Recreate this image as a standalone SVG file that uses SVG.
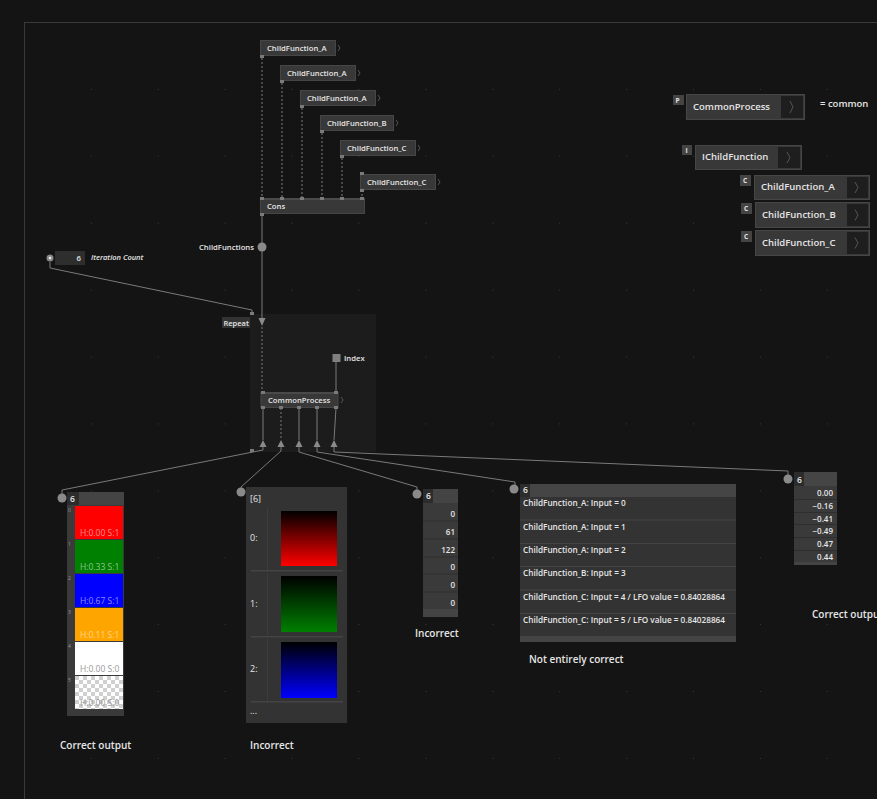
<svg xmlns="http://www.w3.org/2000/svg" width="877" height="799" viewBox="0 0 877 799">
<defs>
<pattern id="grid" x="24" y="22" width="66.9" height="66.9" patternUnits="userSpaceOnUse"><rect x="0" y="0" width="1" height="1" fill="#3a3a3a"/></pattern>
<pattern id="checker" x="75" y="676" width="8" height="8" patternUnits="userSpaceOnUse"><rect width="8" height="8" fill="#ffffff"/><rect width="4" height="4" fill="#d0d0d0"/><rect x="4" y="4" width="4" height="4" fill="#d0d0d0"/></pattern>
<linearGradient id="gR" x1="0" y1="0" x2="0" y2="1"><stop offset="0" stop-color="#000"/><stop offset="1" stop-color="#ff0000"/></linearGradient>
<linearGradient id="gG" x1="0" y1="0" x2="0" y2="1"><stop offset="0" stop-color="#000"/><stop offset="1" stop-color="#008000"/></linearGradient>
<linearGradient id="gB" x1="0" y1="0" x2="0" y2="1"><stop offset="0" stop-color="#000"/><stop offset="1" stop-color="#0000ff"/></linearGradient>
</defs>
<style>
.t{font-family:"Open Sans","Noto Sans","DejaVu Sans",sans-serif;fill:#e6e6e6;}
.s7{font-size:7.7px;font-weight:600;}
.s9{font-size:9.5px;font-weight:600;}
.node{fill:#383838;stroke:#464646;stroke-width:1;}
.port{fill:#7a7a7a;}
.wire{stroke:#7a7a7a;fill:none;stroke-width:1;}
.dash{stroke-dasharray:2 2;}
.pin{fill:#8a8a8a;}
.tri{fill:#8a8a8a;}
.chev{fill:none;stroke:#555;stroke-width:1;}
.badge{fill:#444;}
.arr{fill:#1e1e1e;}
.lbl{font-size:10px;font-weight:600;}
.hsv{font-family:"Open Sans","Noto Sans",sans-serif;font-size:8.5px;}
</style>
<rect width="877" height="799" fill="#141414"/>
<rect x="24" y="22" width="853" height="777" fill="url(#grid)"/>
<path d="M24.5,799 L24.5,22.5 L877,22.5" fill="none" stroke="#3a3a3a" stroke-width="1"/>

<!-- repeat region background -->
<g id="repeatRegion"><rect x="250" y="314" width="126" height="138" fill="#1c1c1c"/></g>

<!-- connectors -->
<g id="connectors">
<path class="wire dash" d="M262,58 V198"/>
<path class="wire dash" d="M282,83 V198"/>
<path class="wire dash" d="M302,108 V198"/>
<path class="wire dash" d="M322,133 V198"/>
<path class="wire dash" d="M342,158 V198"/>
<path class="wire dash" d="M362,190 V198"/>
<path class="wire" d="M262,214 V318"/>
<path class="wire" d="M50,262 V268 L252,310 V314" stroke="#666"/>
<path class="wire dash" d="M262,327 V392"/>
<path class="wire" d="M336,361 V392"/>
<path class="wire" d="M263,408 V440"/>
<path class="wire dash" d="M281,408 V440"/>
<path class="wire" d="M299,408 V440"/>
<path class="wire" d="M317,408 V440"/>
<path class="wire" d="M336,408 L334,440"/>
<path class="wire" d="M263,447 V450 L62,490 V494"/>
<path class="wire" d="M281,447 V451 L241,487 V490"/>
<path class="wire" d="M299,447 V452 L417,487 V491"/>
<path class="wire" d="M317,447 V452 L515,482 V486"/>
<path class="wire" d="M334,447 V452 L788,471 V475"/>
</g>

<!-- top child function nodes -->
<g id="cfA1"><rect class="node" x="260.5" y="40.5" width="75" height="15"/><text class="t s7" x="267" y="51">ChildFunction_A</text><path class="chev" d="M338,45 l2,3 l-2,3"/><rect class="port" x="260" y="55" width="4" height="3"/></g>
<g id="cfA2"><rect class="node" x="280.5" y="65.5" width="75" height="15"/><text class="t s7" x="287" y="76">ChildFunction_A</text><path class="chev" d="M358,70 l2,3 l-2,3"/><rect class="port" x="280" y="80" width="4" height="3"/></g>
<g id="cfA3"><rect class="node" x="300.5" y="90.5" width="75" height="15"/><text class="t s7" x="307" y="101">ChildFunction_A</text><path class="chev" d="M378,95 l2,3 l-2,3"/><rect class="port" x="300" y="105" width="4" height="3"/></g>
<g id="cfB"><rect class="node" x="320.5" y="115.5" width="73" height="15"/><text class="t s7" x="327" y="126">ChildFunction_B</text><path class="chev" d="M396,120 l2,3 l-2,3"/><rect class="port" x="320" y="130" width="4" height="3"/></g>
<g id="cfC1"><rect class="node" x="340.5" y="140.5" width="75" height="15"/><text class="t s7" x="347" y="151">ChildFunction_C</text><path class="chev" d="M418,145 l2,3 l-2,3"/><rect class="port" x="340" y="155" width="4" height="3"/></g>
<g id="cfC2"><rect class="node" x="360.5" y="174.5" width="75" height="15"/><text class="t s7" x="367" y="185">ChildFunction_C</text><path class="chev" d="M438,179 l2,3 l-2,3"/><rect class="port" x="360" y="172" width="4" height="3"/><rect class="port" x="360" y="189" width="4" height="3"/></g>
<g id="cons"><rect class="node" x="260.5" y="198.5" width="104" height="15"/><rect x="261" y="198" width="103" height="2" fill="#4a4a4a"/>
<rect class="port" x="260" y="197" width="4" height="3"/><rect class="port" x="280" y="197" width="4" height="3"/><rect class="port" x="300" y="197" width="4" height="3"/><rect class="port" x="320" y="197" width="4" height="3"/><rect class="port" x="340" y="197" width="4" height="3"/><rect class="port" x="360" y="197" width="4" height="3"/>
<text class="t s7" x="267" y="209">Cons</text><rect class="port" x="260" y="213" width="4" height="3"/></g>
<g id="childFunctionsPin"><circle class="pin" cx="262" cy="247" r="4.5"/><text class="t s7" x="254" y="250" text-anchor="end">ChildFunctions</text></g>

<!-- iteration count -->
<g id="iterationCount"><circle cx="50" cy="258" r="3.5" fill="#888"/><circle cx="50" cy="258" r="1.3" fill="#eee"/><rect x="55" y="251" width="30" height="14" fill="#2e2e2e"/><text class="t s7" x="81" y="261" text-anchor="end">6</text><text class="t" x="91" y="260" font-size="7.5px" font-style="italic" font-weight="600" fill="#ccc">Iteration Count</text></g>

<!-- repeat node -->
<g id="repeat">
<rect x="222" y="317" width="28" height="11" fill="#333"/><text class="t" x="223.5" y="325.5" font-size="7.5px" font-weight="600">Repeat</text>
<rect class="port" x="250" y="312" width="4" height="3"/>
<polygon class="tri" points="258.5,318 265.5,318 262,326"/>
<rect class="port" x="250" y="449" width="4" height="3"/>
<polygon class="tri" points="259.5,447 266.5,447 263,440"/>
<polygon class="tri" points="277.5,447 284.5,447 281,440"/>
<polygon class="tri" points="295.5,447 302.5,447 299,440"/>
<polygon class="tri" points="313.5,447 320.5,447 317,440"/>
<polygon class="tri" points="330.5,447 337.5,447 334,440"/></g>
<g id="index"><rect x="332.5" y="354" width="8" height="8" fill="#808080"/><text class="t s7" x="344" y="360.5">Index</text></g>
<g id="commonProcessNode"><rect class="node" x="261" y="392.5" width="77" height="15"/><rect x="261" y="392" width="77" height="2" fill="#4a4a4a"/>
<rect class="port" x="261" y="391" width="4" height="3"/><rect class="port" x="334" y="391" width="4" height="3"/>
<text class="t s7" x="268" y="403">CommonProcess</text><path class="chev" d="M341,397 l2,3 l-2,3"/>
<rect class="port" x="261" y="406" width="4" height="3"/><rect class="port" x="279" y="406" width="4" height="3"/><rect class="port" x="297" y="406" width="4" height="3"/><rect class="port" x="315" y="406" width="4" height="3"/><rect class="port" x="334" y="406" width="4" height="3"/></g>

<!-- right panel -->
<g id="pCommonProcess"><rect class="badge" x="673" y="95" width="11" height="10"/><text class="t" x="675.5" y="103" font-size="6.5px" font-weight="700">P</text>
<rect class="node" x="686.5" y="94.5" width="118" height="25"/><rect class="arr" x="781" y="96" width="22" height="22"/><path class="chev" d="M790,101 l3,6 l-3,6"/>
<text class="t s9" x="693" y="110">CommonProcess</text><text class="t s9" x="820" y="107">= common</text></g>
<g id="iChildFunction"><rect class="badge" x="682" y="145" width="10" height="10"/><text class="t" x="685.5" y="153" font-size="6.5px" font-weight="700">I</text>
<rect class="node" x="695.5" y="145.5" width="106" height="24"/><rect class="arr" x="778" y="147" width="22" height="21"/><path class="chev" d="M787,152 l3,5.5 l-3,5.5"/>
<text class="t s9" x="702" y="160">IChildFunction</text></g>
<g id="cChildFunctionA"><rect class="badge" x="740" y="175" width="11" height="11"/><text class="t" x="743" y="183" font-size="6.5px" font-weight="700">C</text>
<rect class="node" x="754.5" y="175.5" width="115" height="24"/><rect class="arr" x="847" y="177" width="21" height="21"/><path class="chev" d="M855,182 l3,5.5 l-3,5.5"/>
<text class="t s9" x="761" y="190">ChildFunction_A</text></g>
<g id="cChildFunctionB"><rect class="badge" x="741" y="203" width="11" height="11"/><text class="t" x="744" y="211" font-size="6.5px" font-weight="700">C</text>
<rect class="node" x="755.5" y="202.5" width="114" height="25"/><rect class="arr" x="847" y="204" width="21" height="22"/><path class="chev" d="M855,209.5 l3,5.5 l-3,5.5"/>
<text class="t s9" x="762" y="218">ChildFunction_B</text></g>
<g id="cChildFunctionC"><rect class="badge" x="741" y="231" width="11" height="11"/><text class="t" x="744" y="239" font-size="6.5px" font-weight="700">C</text>
<rect class="node" x="755.5" y="230.5" width="114" height="25"/><rect class="arr" x="847" y="232" width="21" height="22"/><path class="chev" d="M855,237.5 l3,5.5 l-3,5.5"/>
<text class="t s9" x="762" y="246">ChildFunction_C</text></g>

<!-- color list -->
<g id="colorList"><circle class="pin" cx="62" cy="498" r="4.5"/>
<rect x="67" y="492" width="57" height="224" fill="#3a3a3a"/><rect x="67" y="492" width="57" height="13" fill="#444"/><rect x="67" y="492" width="12" height="13" fill="#2c2c2c"/>
<text class="t" x="70" y="502" font-size="8.5px" font-weight="600">6</text>
<g font-family="Open Sans,sans-serif" font-size="5px" fill="#999"><text x="68" y="512">0</text><text x="68" y="546">1</text><text x="68" y="580">2</text><text x="68" y="614">3</text><text x="68" y="648">4</text><text x="68" y="682">5</text></g>
<rect x="75" y="506" width="48" height="33" fill="#ff0000"/>
<rect x="75" y="540" width="48" height="33" fill="#008000"/>
<rect x="75" y="574" width="48" height="33" fill="#0000ff"/>
<rect x="75" y="608" width="48" height="33" fill="#ffa500"/>
<rect x="75" y="642" width="48" height="33" fill="#ffffff"/>
<rect x="75" y="676" width="48" height="33" fill="url(#checker)"/>
<g class="hsv" fill="#ffffff" fill-opacity="0.55"><text x="80" y="536">H:0.00 S:1</text><text x="80" y="570">H:0.33 S:1</text><text x="80" y="604">H:0.67 S:1</text><text x="80" y="638">H:0.11 S:1</text></g>
<g class="hsv" fill="#999"><text x="80" y="672">H:0.00 S:0</text><text x="80" y="706">H:0.00 S:0</text></g>
</g>
<text class="t lbl" x="60" y="749">Correct output</text>

<!-- gradient list -->
<g id="gradientList"><circle class="pin" cx="241" cy="492" r="4.5"/>
<rect x="246" y="487" width="101" height="236" fill="#333"/>
<text class="t" x="250" y="502" font-size="9px" fill="#aaa">[6]</text>
<rect x="267" y="508" width="1" height="62" fill="#3d3d3d"/><rect x="267" y="573" width="1" height="62" fill="#3d3d3d"/><rect x="267" y="639" width="1" height="62" fill="#3d3d3d"/>
<rect x="251" y="570" width="92" height="1.5" fill="#444"/><rect x="251" y="636" width="92" height="1.5" fill="#444"/><rect x="251" y="701" width="92" height="1.5" fill="#444"/>
<g class="t" font-size="9px" fill="#666"><text x="250" y="541">0:</text><text x="250" y="607">1:</text><text x="250" y="672">2:</text><text x="250" y="714">...</text></g>
<rect x="281" y="511" width="56" height="55" fill="url(#gR)"/>
<rect x="281" y="576" width="56" height="56" fill="url(#gG)"/>
<rect x="281" y="642" width="56" height="56" fill="url(#gB)"/>
</g>
<text class="t lbl" x="250" y="749">Incorrect</text>

<!-- number list -->
<g id="intList"><circle class="pin" cx="417" cy="494" r="4.5"/>
<rect x="423" y="489" width="35" height="128" fill="#3a3a3a"/><rect x="423" y="489" width="35" height="14" fill="#444"/><rect x="423" y="489" width="10" height="14" fill="#2c2c2c"/>
<text class="t" x="426" y="499" font-size="8.5px" font-weight="600">6</text>
<g fill="#2e2e2e"><rect x="423" y="520.5" width="35" height="1"/><rect x="423" y="538.5" width="35" height="1"/><rect x="423" y="556.5" width="35" height="1"/><rect x="423" y="573.5" width="35" height="1"/><rect x="423" y="591.5" width="35" height="1"/><rect x="423" y="609" width="35" height="8" fill="#444"/></g>
<g class="t" font-size="8px" font-weight="600" text-anchor="end"><text x="455" y="517">0</text><text x="455" y="535">61</text><text x="455" y="553">122</text><text x="455" y="570">0</text><text x="455" y="588">0</text><text x="455" y="606">0</text></g>
</g>
<text class="t lbl" x="415" y="637">Incorrect</text>

<!-- text list -->
<g id="stringList"><circle class="pin" cx="514" cy="489" r="4.5"/>
<rect x="520" y="484" width="216" height="158" fill="#333"/><rect x="520" y="484" width="216" height="13" fill="#454545"/><rect x="520" y="484" width="10" height="13" fill="#2c2c2c"/>
<text class="t" x="523" y="493" font-size="8.5px" font-weight="600">6</text>
<g fill="#444"><rect x="520" y="519.5" width="216" height="1"/><rect x="520" y="543" width="216" height="1"/><rect x="520" y="566" width="216" height="1"/><rect x="520" y="589.5" width="216" height="1"/><rect x="520" y="613" width="216" height="1"/><rect x="520" y="636" width="216" height="6"/></g>
<g class="t" font-size="8.2px" font-weight="600"><text x="523" y="506">ChildFunction_A: Input = 0</text><text x="523" y="530">ChildFunction_A: Input = 1</text><text x="523" y="553">ChildFunction_A: Input = 2</text><text x="523" y="576">ChildFunction_B: Input = 3</text><text x="523" y="599.5">ChildFunction_C: Input = 4 / LFO value = 0.84028864</text><text x="523" y="623">ChildFunction_C: Input = 5 / LFO value = 0.84028864</text></g>
</g>
<text class="t lbl" x="529" y="663">Not entirely correct</text>

<!-- float list -->
<g id="floatList"><circle class="pin" cx="788" cy="479" r="4.5"/>
<rect x="794" y="472" width="43" height="93" fill="#3a3a3a"/><rect x="794" y="472" width="43" height="14" fill="#454545"/><rect x="794" y="472" width="10" height="14" fill="#2c2c2c"/>
<text class="t" x="797" y="482.5" font-size="8.5px" font-weight="600">6</text>
<g fill="#2e2e2e"><rect x="794" y="499" width="43" height="1"/><rect x="794" y="512" width="43" height="1"/><rect x="794" y="524" width="43" height="1"/><rect x="794" y="537" width="43" height="1"/><rect x="794" y="550" width="43" height="1"/><rect x="794" y="562" width="43" height="3" fill="#444"/></g>
<g class="t" font-size="8px" font-weight="600" text-anchor="end"><text x="833" y="496">0.00</text><text x="833" y="509">−0.16</text><text x="833" y="521.5">−0.41</text><text x="833" y="534">−0.49</text><text x="833" y="547">0.47</text><text x="833" y="559.5">0.44</text></g>
</g>
<text class="t lbl" x="812" y="618">Correct output</text>
</svg>
